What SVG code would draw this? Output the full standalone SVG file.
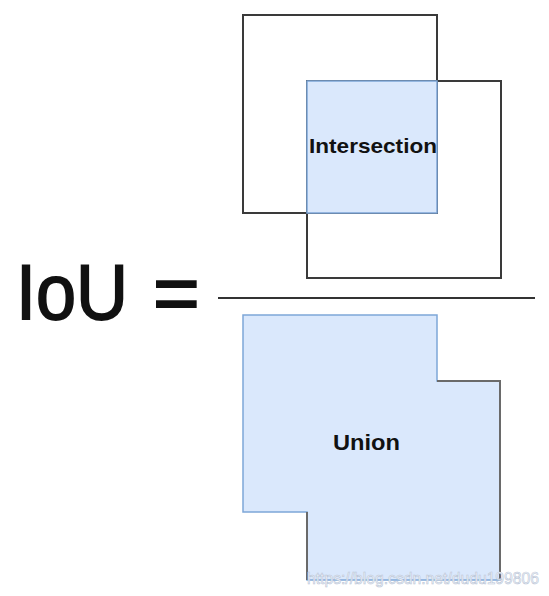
<svg xmlns="http://www.w3.org/2000/svg" width="549" height="596" viewBox="0 0 549 596">
<style>
.box{fill:none;stroke:#3a3a3a;stroke-width:2}
.fill{fill:#dae8fc;stroke:#7ea6d8;stroke-width:1.5}
.dark{fill:none;stroke:#6a6a6a;stroke-width:2}
.lbl{font-family:"Liberation Sans",Arial,sans-serif;font-weight:bold;fill:#111}
.big{font-family:"Liberation Sans",Arial,sans-serif;fill:#111;stroke:#111;stroke-width:1.8}
.wm{font-family:"Liberation Sans",Arial,sans-serif;fill:#f4f6fa;stroke:#b8c4d6;stroke-width:0.6}
</style>
<rect width="549" height="596" fill="#fff"/>
<g id="box-a"><rect class="box" x="243" y="15" width="194" height="198"/></g>
<g id="box-b"><rect class="box" x="307" y="81" width="194" height="197"/></g>
<g id="intersection">
<rect class="fill" x="307" y="81" width="130" height="132"/>
<text class="lbl" x="309" y="153" font-size="21" textLength="128" lengthAdjust="spacingAndGlyphs">Intersection</text>
</g>
<g id="iou">
<text class="big" x="16" y="319" font-size="78" textLength="112" lengthAdjust="spacingAndGlyphs">IoU</text>
<text class="big" x="153" y="320" font-size="80">=</text>
</g>
<g id="connectors"><line x1="218" y1="298" x2="535" y2="298" stroke="#333" stroke-width="2"/></g>
<g id="union">
<polygon class="fill" points="243,315 437,315 437,381 500,381 500,580 307,580 307,512 243,512"/>
<polyline class="dark" points="437,381 500,381 500,580"/>
<line class="dark" x1="307" y1="512" x2="307" y2="580"/>
<text class="lbl" x="333" y="450" font-size="22" textLength="67" lengthAdjust="spacingAndGlyphs">Union</text>
</g>
<text class="wm" x="307" y="584" font-size="17" textLength="232" lengthAdjust="spacingAndGlyphs">https://blog.csdn.net/dudu199806</text>
</svg>
